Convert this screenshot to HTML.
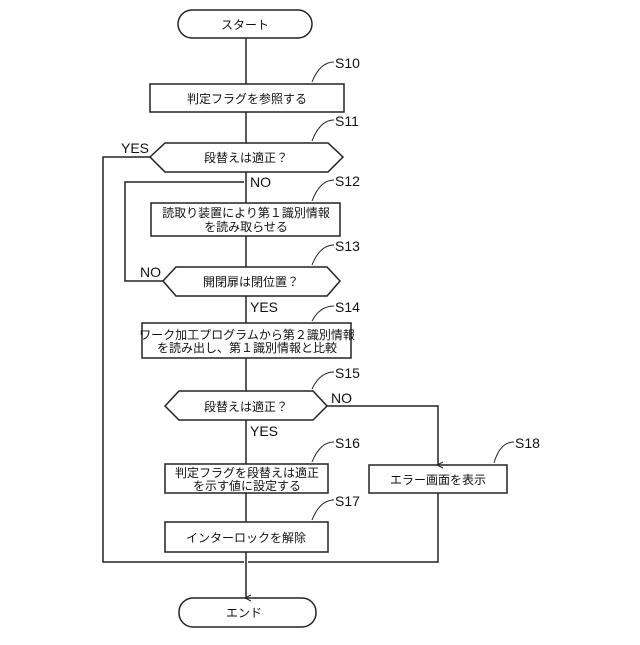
<!DOCTYPE html>
<html><head><meta charset="utf-8"><style>
body{margin:0;background:#fff}
svg text{font-family:"Liberation Sans","Noto Sans CJK JP",sans-serif;fill:#111}
.t{font-size:12px;text-anchor:middle}
.l{font-size:14px;font-family:"Liberation Sans Narrow","Liberation Sans",sans-serif}
</style></head><body>
<svg width="640" height="640" viewBox="0 0 640 640" xmlns="http://www.w3.org/2000/svg">
<defs><marker id="a" markerWidth="8" markerHeight="8" refX="4" refY="6" orient="auto-start-reverse" markerUnits="userSpaceOnUse"><path d="M1,1 L4,7 L7,1" fill="none" stroke="#222" stroke-width="1"/></marker></defs>
<g fill="none" stroke="#222" stroke-width="1.5">
<rect x="178" y="10" width="134" height="28" rx="14"/>
<rect x="150" y="84" width="194" height="28"/>
<polygon points="150,157 165,143 328,143 343,157 328,172 165,172"/>
<rect x="151" y="203" width="189" height="33"/>
<polygon points="163,281 176,267 327,267 340,281 327,296 176,296"/>
<rect x="142" y="323" width="209" height="35"/>
<polygon points="165,406 179,391 313,391 327,406 313,420 179,420"/>
<rect x="165" y="464" width="163" height="29"/>
<rect x="369" y="465" width="138" height="28"/>
<rect x="165" y="522" width="163" height="30"/>
<rect x="179" y="598" width="137" height="29" rx="14"/>
<path d="M246 38V84M246 112V143M246 172V203M246 236V267M246 296V323M246 358V391M246 420V464M246 493V522M246 552V598" marker-end="url(#a)"/>
<path d="M150 157H103V562H244"/>
<path d="M163 281H125V182H244"/>
<path d="M327 406H438V465" marker-end="url(#a)"/>
<path d="M438 493V562H248"/>
<path d="M312 82 Q320 62 334 62M312 141 Q320 120 334 120M312 201 Q320 180 334 180M312 265 Q320 245 334 245M312 321 Q320 306 334 306M312 389 Q320 372 334 372M312 462 Q320 442 334 442M312 520 Q320 500 334 500M494 463 Q500 442 514 442" stroke-width="1"/>
</g>
<text class="t" x="245" y="29">スタート</text>
<text class="t" x="247" y="103">判定フラグを参照する</text>
<text class="t" x="246" y="162">段替えは適正？</text>
<text class="t" x="246" y="217">読取り装置により第１識別情報</text>
<text class="t" x="246" y="231">を読み取らせる</text>
<text class="t" x="251" y="286">開閉扉は閉位置？</text>
<text class="t" x="247" y="339">ワーク加工プログラムから第２識別情報</text>
<text class="t" x="247" y="352">を読み出し、第１識別情報と比較</text>
<text class="t" x="246" y="411">段替えは適正？</text>
<text class="t" x="247" y="477">判定フラグを段替えは適正</text>
<text class="t" x="247" y="490">を示す値に設定する</text>
<text class="t" x="438" y="484">エラー画面を表示</text>
<text class="t" x="246" y="542">インターロックを解除</text>
<text class="t" x="244" y="617">エンド</text>
<text class="l" x="335" y="68">S10</text>
<text class="l" x="335" y="126">S11</text>
<text class="l" x="335" y="186">S12</text>
<text class="l" x="335" y="251">S13</text>
<text class="l" x="335" y="312">S14</text>
<text class="l" x="335" y="378">S15</text>
<text class="l" x="335" y="448">S16</text>
<text class="l" x="335" y="506">S17</text>
<text class="l" x="515" y="448">S18</text>
<text class="l" x="121" y="153">YES</text>
<text class="l" x="250" y="187">NO</text>
<text class="l" x="140" y="277">NO</text>
<text class="l" x="250" y="312">YES</text>
<text class="l" x="331" y="403">NO</text>
<text class="l" x="250" y="436">YES</text>
</svg>
</body></html>
